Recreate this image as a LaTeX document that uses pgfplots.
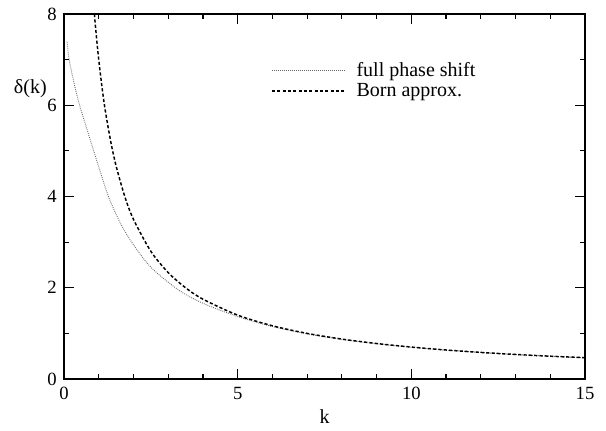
\documentclass[border=0pt]{standalone}
\usepackage{fontspec}
\setmainfont{Liberation Serif}
\usepackage{pgfplots}
\pgfplotsset{compat=1.18}
\newcommand{\fs}{\fontsize{14}{16}\selectfont}
\newcommand{\fl}{\fontsize{15}{17}\selectfont}
\begin{document}
\begin{tikzpicture}
\begin{axis}[
  scale only axis,
  width=390.75pt, height=273.75pt,
  at={(0,0)}, anchor=south west,
  clip=false,
  xmin=0, xmax=15, ymin=0, ymax=8,
  xtick={0,5,10,15}, ytick={0,2,4,6,8},
  minor xtick={1,2,3,4,6,7,8,9,11,12,13,14},
  minor ytick={1,3,5,7},
  tick align=inside,
  tick pos=both,
  major tick length=7.5pt,
  minor tick length=3.75pt,
  every tick/.style={line width=0.9pt, black},
  axis line style={line width=1.3pt},
  /pgf/number format/assume math mode=true,
  tick label style={font=\fs},
  xticklabel style={yshift=-2.5pt},
  yticklabel style={xshift=-2pt},
  xlabel={k},
  every axis x label/.style={at={(axis description cs:0.5,0)}, anchor=center, yshift=-28.5pt, font=\fl},
  legend style={draw=none, fill=none, font=\fl, at={(rel axis cs:0.397,0.875)}, anchor=north west, row sep=-0.5pt, inner sep=0pt},
  legend cell align=left,
  legend image code/.code={\draw[#1] (0pt,0pt) -- (55pt,0pt); \path (61pt,0pt);},
]
\addplot[gray!80!black, line width=0.7pt, dash pattern=on 0.6pt off 0.9pt, smooth] coordinates {
(0.09,7.39) (0.15,7.0) (0.3,6.45) (0.45,6.0) (0.65,5.5) (0.855,5.0) (1.05,4.53) (1.28,4.0)
(1.6,3.45) (1.95,3.0) (2.5,2.45) (3.3,1.95) (4.0,1.66) (5.0,1.37) (6.0,1.15) (7.0,0.99)
(8.0,0.868) (9.0,0.774) (10.0,0.697) (11,0.634) (12.0,0.582) (13,0.537) (14,0.499) (15.0,0.466)};
\addlegendentry{full phase shift}
\addplot[black, line width=1.1pt, dash pattern=on 2.4pt off 1.6pt, smooth] coordinates {
(0.875,8) (0.9,7.78) (0.95,7.37) (1.0,7.0) (1.1,6.36) (1.2,5.83) (1.35,5.19) (1.5,4.67)
(1.75,4.0) (2.0,3.5) (2.5,2.8) (3.0,2.333) (3.5,2.0) (4.0,1.75) (5.0,1.4) (6.0,1.167)
(7.0,1.0) (8.0,0.875) (9.0,0.778) (10.0,0.7) (11.0,0.636) (12.0,0.583) (13.0,0.538)
(14.0,0.5) (15.0,0.467)};
\addlegendentry{Born approx.}
\node[anchor=east, font=\fl, inner sep=0pt] at (rel axis cs:0,0.795) [xshift=-12.75pt] {δ(k)};
\end{axis}
\pgfresetboundingbox
\path (-48pt,-38.25pt) rectangle (406.5pt,284.25pt);
\end{tikzpicture}
\end{document}
